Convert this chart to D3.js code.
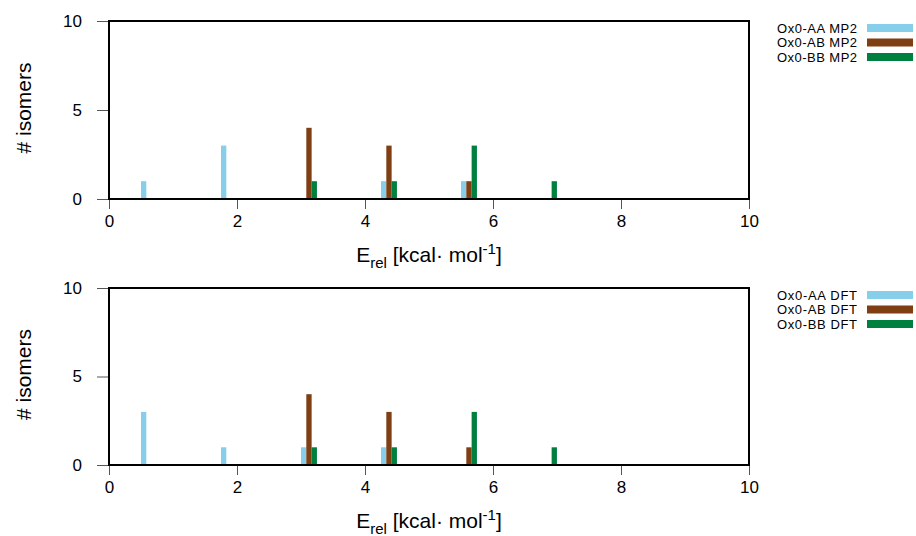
<!DOCTYPE html>
<html lang="en">
<head>
<meta charset="UTF-8">
<title>isomers</title>
<script src="https://d3js.org/d3.v7.min.js"></script>
<style>
  body { margin: 0; background: #fff; }
  text { font-family: "Liberation Sans", Arial, Helvetica, sans-serif; fill: #000; }
</style>
</head>
<body>
<div id="chart"></div>
<script>
// energy bins (kcal/mol) and isomer counts per series
var bins = [0.5, 1.75, 3.0, 4.25, 5.5, 6.75];
var seriesNames = ["AA", "AB", "BB"];

var mp2AA = [1, 3, 0, 1, 1, 0];
var mp2AB = [0, 0, 4, 3, 1, 0];
var mp2BB = [0, 0, 1, 1, 3, 1];

var dftAA = [3, 1, 1, 1, 0, 0];
var dftAB = [0, 0, 4, 3, 1, 0];
var dftBB = [0, 0, 1, 1, 3, 1];

var xTicks = [0, 2, 4, 6, 8, 10];
var yTicks = [0, 5, 10];

var colors = ["#87ceeb", "#7f3f13", "#00803f"];
var barW = 0.083;

var svg = d3.select("#chart").append("svg")
    .attr("width", 916)
    .attr("height", 536);

var x = d3.scaleLinear().domain([0, 10]).range([109, 749]);

function panel(top, bottom, data, method) {
    var y = d3.scaleLinear().domain([0, 10]).range([bottom, top]);
    var g = svg.append("g");

    // bars
    data.forEach(function (vals, si) {
        g.selectAll(".bar" + si)
            .data(bins.map(function (b, i) { return { b: b, v: vals[i] }; })
                .filter(function (d) { return d.v > 0; }))
            .join("rect")
            .attr("x", function (d) { return x(d.b + barW * (si + 0.5) - barW / 2); })
            .attr("width", x(barW) - x(0))
            .attr("y", function (d) { return y(d.v); })
            .attr("height", function (d) { return y(0) - y(d.v); })
            .attr("fill", colors[si]);
    });

    // axes
    var xa = g.append("g")
        .attr("transform", "translate(0," + bottom + ")")
        .call(d3.axisBottom(x).tickValues(xTicks).tickSize(10).tickPadding(6));
    var ya = g.append("g")
        .attr("transform", "translate(" + x(0) + ",0)")
        .call(d3.axisLeft(y).tickValues(yTicks).tickSize(12).tickPadding(15));
    [xa, ya].forEach(function (a) {
        a.select(".domain").remove();
        a.selectAll(".tick line").attr("stroke", "#555").attr("stroke-width", 1);
        a.selectAll(".tick text").style("font-size", "17px")
            .style("font-family", "Liberation Sans, Arial, sans-serif");
    });

    // frame
    g.append("rect")
        .attr("x", x(0)).attr("y", top)
        .attr("width", x(10) - x(0)).attr("height", bottom - top)
        .attr("fill", "none").attr("stroke", "#000").attr("stroke-width", 2);

    // axis titles
    var xt = g.append("text")
        .attr("x", 429).attr("y", bottom + 63)
        .attr("text-anchor", "middle")
        .style("font-size", "21px");
    xt.append("tspan").text("E");
    xt.append("tspan").text("rel").attr("dy", 6).style("font-size", "15px");
    xt.append("tspan").text(" [kcal\u00b7 mol").attr("dy", -6);
    xt.append("tspan").text("-1").attr("dy", -8).style("font-size", "15px");
    xt.append("tspan").text("]").attr("dy", 8);

    g.append("text")
        .attr("transform", "translate(31," + ((top + bottom) / 2 - 2) + ") rotate(-90)")
        .attr("text-anchor", "middle")
        .style("font-size", "21px")
        .text("# isomers");

    // legend
    seriesNames.forEach(function (n, i) {
        var ly = top + 7 + i * 14.5;
        g.append("text")
            .attr("x", 857).attr("y", ly + 4.5)
            .attr("text-anchor", "end")
            .style("font-size", "13px")
            .attr("textLength", 80)
            .text("Ox0-" + n + " " + method);
        g.append("rect")
            .attr("x", 867).attr("y", ly - 4)
            .attr("width", 46).attr("height", 8)
            .attr("fill", colors[i]);
    });
}

panel(21, 199, [mp2AA, mp2AB, mp2BB], "MP2");
panel(288, 465, [dftAA, dftAB, dftBB], "DFT");
</script>
</body>
</html>
